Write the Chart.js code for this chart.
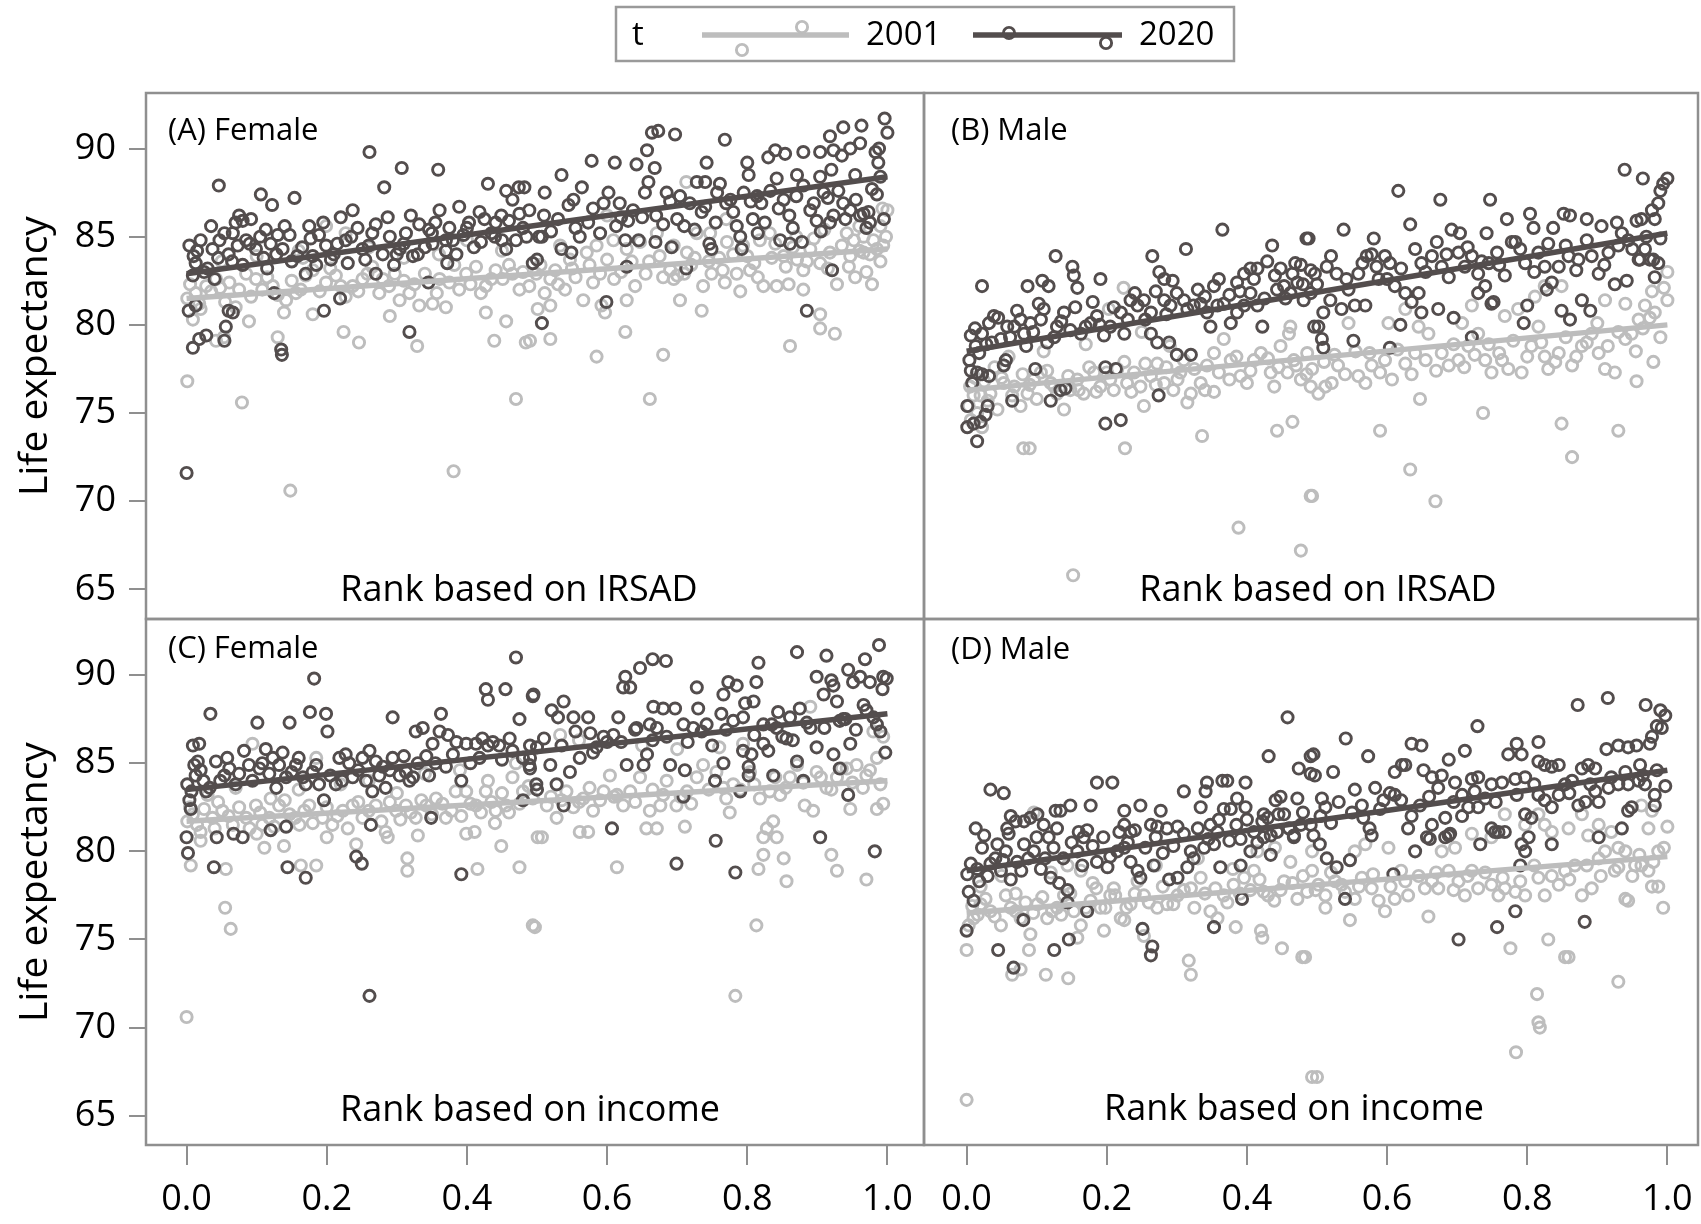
<!DOCTYPE html>
<html><head><meta charset="utf-8">
<script src="https://cdn.jsdelivr.net/npm/chart.js@4.4.1/dist/chart.umd.min.js"></script>
<style>
html,body{margin:0;padding:0;background:#fff;width:1701px;height:1224px;overflow:hidden}
canvas{position:absolute;display:block}
</style></head><body>
<canvas id="legend" width="1701" height="91" style="left:0;top:0"></canvas>
<canvas id="cA" width="927" height="530" style="left:0;top:91px"></canvas>
<canvas id="cB" width="779" height="530" style="left:922px;top:91px"></canvas>
<canvas id="cC" width="927" height="607" style="left:0;top:617px"></canvas>
<canvas id="cD" width="779" height="607" style="left:922px;top:617px"></canvas>
<script>
// ---------- data ----------
const years = ['2001', '2020'];
const yTickValues = [65, 70, 75, 80, 85, 90];
const xTickValues = [0, 0.2, 0.4, 0.6, 0.8, 1.0];
const fitX = [0, 1];
const fitA_2001 = [81.5, 84.3], fitA_2020 = [82.9, 88.4];
const fitB_2001 = [76.3, 80.0], fitB_2020 = [78.5, 85.2];
const fitC_2001 = [81.7, 84.0], fitC_2020 = [83.5, 87.8];
const fitD_2001 = [76.5, 79.7], fitD_2020 = [78.9, 84.6];

const ptsA_2020 = [[0.000,71.6],[0.261,89.8],[0.307,88.9],[0.359,88.8],[0.282,87.8],[0.046,87.9],[0.106,87.4],[0.122,86.8],[0.154,87.2],[0.430,88.0],[0.456,87.6],[0.474,87.8],[0.482,87.8],
[0.009,78.7],[0.018,79.2],[0.028,79.4],[0.054,79.1],[0.056,79.9],[0.003,80.8],[0.013,81.1],[0.066,80.7],[0.060,80.8],[0.135,78.6],[0.136,78.3],[0.196,80.8],[0.219,81.5],[0.318,79.6],[0.125,81.8],[0.345,82.4],[0.372,83.5],
[0.004,84.5],[0.009,82.8],[0.020,84.8],[0.013,83.5],[0.037,84.3],[0.047,84.8],[0.054,85.2],[0.070,85.8],[0.080,85.9],[0.092,86.0],[0.066,85.2],[0.073,84.5],[0.085,84.8],[0.099,84.3],[0.113,85.4],[0.130,85.1],[0.147,85.1],[0.137,84.3],[0.158,83.9],[0.170,82.9],[0.177,84.9],[0.189,85.1],[0.199,84.5],[0.206,83.7],[0.220,86.1],[0.237,86.5],[0.227,84.8],[0.244,85.5],[0.251,84.3],[0.270,85.7],[0.270,82.9],[0.287,86.1],[0.296,83.4],[0.304,84.3],[0.313,85.2],[0.323,83.9],[0.332,85.7],[0.346,85.4],[0.351,84.6],[0.361,86.5],[0.370,84.8],[0.380,84.8],[0.389,86.7],[0.403,85.8],[0.418,86.4],[0.441,85.8],[0.449,86.2],[0.456,84.3],[0.465,87.1],[0.470,84.8],[0.489,86.5],[0.494,83.5],[0.503,85.0],
[0.010,83.9],[0.030,83.2],[0.040,82.6],[0.060,84.0],[0.080,83.4],[0.110,83.8],[0.120,84.6],[0.150,83.6],[0.180,83.9],[0.210,84.0],[0.230,83.5],[0.260,84.5],[0.280,84.0],[0.310,84.6],[0.330,84.0],[0.350,85.2],[0.370,84.2],[0.400,85.5],[0.420,84.7],[0.440,85.0],[0.480,85.5],
[0.996,91.7],[1.000,90.9],[0.963,91.3],[0.937,91.2],[0.918,90.7],[0.983,89.8],[0.988,90.0],[0.987,89.2],[0.947,90.0],[0.961,90.3],[0.923,89.9],[0.935,89.6],[0.904,89.8],[0.880,89.8],[0.854,89.7],[0.840,89.9],[0.830,89.5],[0.800,89.2],[0.802,88.5],[0.768,90.5],[0.664,90.9],[0.673,91.0],[0.697,90.8],[0.657,89.9],[0.668,88.9],[0.659,88.1],[0.611,89.2],[0.578,89.3],[0.535,88.5],[0.564,87.8],[0.511,87.5],[0.642,89.1],[0.742,89.2],[0.728,88.1],[0.740,88.1],[0.761,88.0],[0.842,88.3],[0.871,88.5],[0.904,88.4],[0.920,88.8],[0.954,88.5],[0.978,87.7],
[0.552,87.1],[0.602,87.5],[0.618,86.9],[0.637,86.5],[0.654,87.5],[0.685,87.5],[0.704,87.3],[0.718,86.9],[0.757,87.5],[0.776,87.1],[0.795,87.5],[0.814,87.3],[0.833,87.6],[0.852,87.1],[0.895,86.9],[0.909,87.5],[0.937,86.9],[0.947,86.5],[0.966,86.3],
[0.507,85.0],[0.500,83.7],[0.507,80.1],[0.535,84.3],[0.549,84.1],[0.561,85.0],[0.573,85.8],[0.599,81.3],[0.613,85.6],[0.626,84.8],[0.645,84.8],[0.628,83.3],[0.669,84.7],[0.692,84.4],[0.713,83.2],[0.725,85.4],[0.746,84.6],[0.749,84.3],[0.790,85.0],[0.792,84.3],[0.808,86.0],[0.825,85.8],[0.847,84.8],[0.861,84.6],[0.878,84.7],[0.885,80.8],[0.899,85.9],[0.918,85.8],[0.923,86.2],[0.921,83.1],[0.961,86.2],[0.970,85.5],[0.973,86.4],
[0.530,86.0],[0.580,86.6],[0.630,85.9],[0.670,86.2],[0.700,86.0],[0.740,86.7],[0.780,86.4],[0.820,86.9],[0.860,86.2],[0.880,87.9],[0.930,87.6],[0.990,88.4]];
const moreA_2020 = [[0.015,84.2],[0.025,83.0],[0.035,85.6],[0.045,83.8],[0.065,83.6],[0.075,86.2],[0.09,84.6],[0.105,85.0],[0.115,83.2],[0.128,84.0],[0.14,85.6],[0.165,84.4],[0.175,85.6],[0.185,83.4],[0.195,85.8],[0.215,84.6],[0.235,85.0],[0.255,83.7],[0.265,85.2],[0.29,85.0],[0.3,84.0],[0.32,86.2],[0.34,84.4],[0.355,85.8],[0.375,85.5],[0.385,84.0],[0.395,85.1],[0.41,84.4],[0.425,86.0],[0.435,85.2],[0.45,84.8],[0.46,85.9],[0.475,86.3],[0.485,85.0],[0.51,86.2],[0.52,85.3],[0.545,86.8],[0.555,85.5],[0.59,85.2],[0.595,86.9],[0.62,86.1],[0.65,86.1],[0.68,85.7],[0.69,87.0],[0.71,85.6],[0.735,86.4],[0.755,85.8],[0.77,86.9],[0.785,85.6],[0.805,87.0],[0.815,85.2],[0.845,86.6],[0.865,85.5],[0.87,87.3],[0.89,86.5],[0.905,85.3],[0.915,87.2],[0.94,86.0],[0.955,87.1],[0.975,85.8],[0.985,87.4],[0.995,86.0]];

const ptsA_2001 = [[0.001,76.8],[0.079,75.6],[0.148,70.6],[0.381,71.7],[0.470,75.8],[0.439,79.1],[0.484,79.0],[0.329,78.8],[0.246,79.0],[0.224,79.6],[0.130,79.3],[0.089,80.2],[0.042,79.1],[0.053,79.3],[0.009,80.3],[0.139,80.7],[0.427,80.7],[0.456,80.2],[0.501,80.9],
[0.001,81.5],[0.013,81.8],[0.028,82.2],[0.042,82.6],[0.061,82.4],[0.085,82.9],[0.099,82.6],[0.108,82.0],[0.123,82.2],[0.142,81.4],[0.156,81.8],[0.170,82.8],[0.180,83.1],[0.199,82.4],[0.213,82.8],[0.227,81.6],[0.237,82.2],[0.251,82.6],[0.265,83.3],[0.275,81.8],[0.289,82.2],[0.304,81.4],[0.318,81.8],[0.332,81.1],[0.351,81.2],[0.361,82.6],[0.389,82.0],[0.399,82.9],[0.413,83.3],[0.427,82.2],[0.441,83.1],[0.451,82.6],[0.465,82.9],[0.475,82.0],[0.489,82.2],[0.499,82.9],
[0.199,85.6],[0.227,85.2],[0.166,83.8],[0.050,83.6],[0.100,83.9],[0.160,84.2],[0.260,84.4],[0.310,83.8],[0.360,84.0],[0.400,84.8],[0.450,84.2],[0.020,80.9],[0.070,81.0],[0.180,80.6],[0.290,80.5],[0.370,81.0],
[0.519,82.6],[0.511,81.8],[0.519,81.1],[0.526,83.1],[0.540,82.0],[0.566,81.4],[0.580,82.4],[0.597,80.7],[0.592,81.1],[0.628,81.4],[0.626,79.6],[0.585,78.2],[0.680,78.3],[0.661,75.8],[0.490,79.1],[0.519,79.2],[0.680,82.7],[0.695,82.6],[0.704,81.4],[0.737,82.2],[0.735,80.8],[0.749,82.9],[0.768,82.4],[0.785,82.9],[0.804,83.1],[0.823,82.2],[0.842,82.2],[0.859,82.3],[0.861,78.8],[0.904,80.6],[0.904,79.8],[0.925,79.5],[0.880,83.1],[0.904,83.5],[0.928,82.3],[0.954,82.7],[0.978,82.3],[0.942,85.2],[0.952,84.8],[0.966,85.0],[0.980,84.8],[0.990,85.6],[0.994,84.5],[0.966,84.1],[0.947,83.9],[0.918,84.1],[0.890,84.3],[0.871,83.7],[0.852,83.9],[0.832,85.2],[0.818,84.8],[0.794,84.5],[0.771,84.7],[0.747,85.2],[0.728,85.2],[0.714,84.1],[0.695,84.5],[0.671,85.2],[0.647,84.7],[0.628,84.3],[0.609,84.8],[0.600,83.7],[0.585,84.5],[0.571,84.1],[0.547,83.7],[0.533,84.5],
[0.713,88.1],[0.993,86.6],[1.000,86.5],[0.770,86.0],[0.600,86.2],
[0.550,83.2],[0.620,83.0],[0.660,83.6],[0.720,83.4],[0.760,83.8],[0.810,83.5],[0.840,84.6],[0.870,85.0],[0.910,85.4],[0.960,84.2],[0.990,83.6],[0.640,82.2],[0.700,82.8],[0.790,81.9],[0.880,82.0],[0.970,83.0]];
const moreA_2001 = [[0.005,82.3],[0.018,81.2],[0.035,81.9],[0.048,82.1],[0.055,81.3],[0.075,82.0],[0.092,81.6],[0.115,82.7],[0.13,81.7],[0.15,82.5],[0.163,82.0],[0.19,81.9],[0.205,83.2],[0.22,82.2],[0.245,81.9],[0.258,82.9],[0.28,82.6],[0.297,82.9],[0.31,82.5],[0.325,82.3],[0.34,82.9],[0.357,81.8],[0.375,82.4],[0.382,83.4],[0.405,82.3],[0.42,81.8],[0.435,82.6],[0.46,83.4],[0.48,83.0],[0.505,83.4],[0.53,82.3],[0.555,82.7],[0.575,83.4],[0.59,82.9],[0.61,82.6],[0.635,83.6],[0.655,82.9],[0.675,83.9],[0.69,83.1],[0.71,82.9],[0.725,83.8],[0.745,83.6],[0.765,83.1],[0.78,84.0],[0.8,83.9],[0.815,82.7],[0.835,83.8],[0.855,83.3],[0.865,84.4],[0.885,83.6],[0.895,84.9],[0.915,83.2],[0.935,84.5],[0.945,83.3],[0.96,85.6],[0.975,84.0],[0.985,84.3],[0.998,85.0]];

const ptsB_2020 = [[0.365,85.4],[0.313,84.3],[0.436,84.5],[0.485,84.9],[0.127,83.9],[0.265,83.9],[0.191,82.6],[0.151,83.3],[0.153,82.8],[0.158,82.1],[0.022,82.2],[0.087,82.2],[0.108,82.5],[0.117,82.2],[0.103,81.2],[0.275,83.0],[0.282,82.6],[0.294,82.5],[0.353,82.2],[0.386,82.4],[0.396,82.9],[0.405,83.2],[0.415,83.2],[0.429,83.6],[0.448,83.2],[0.469,83.5],[0.477,83.4],[0.491,83.1],
[0.015,73.4],[0.001,74.2],[0.010,74.4],[0.020,74.5],[0.027,74.9],[0.001,75.4],[0.030,75.4],[0.008,76.7],[0.006,77.4],[0.015,77.3],[0.022,77.2],[0.032,77.1],[0.065,75.7],[0.120,75.7],[0.134,76.3],[0.141,76.4],[0.198,74.4],[0.220,74.6],[0.274,76.0],[0.198,77.6],[0.213,77.5],[0.098,77.5],[0.056,78.0],[0.053,77.7],[0.300,78.3],[0.320,78.3],[0.272,79.0],[0.289,79.0],[0.263,79.5],[0.422,79.9],[0.496,79.9],
[0.006,79.4],[0.013,78.8],[0.022,79.5],[0.032,80.1],[0.039,80.5],[0.049,79.2],[0.058,79.9],[0.068,79.9],[0.077,80.3],[0.082,79.5],[0.091,80.1],[0.106,80.3],[0.115,79.0],[0.129,79.9],[0.139,80.7],[0.148,79.7],[0.163,79.5],[0.177,80.1],[0.186,80.5],[0.196,79.4],[0.205,79.9],[0.220,80.7],[0.225,79.5],[0.234,81.4],[0.244,81.1],[0.253,81.4],[0.263,80.7],[0.282,81.4],[0.291,81.1],[0.310,81.4],[0.324,81.1],[0.334,81.2],[0.343,80.7],[0.348,79.9],[0.358,81.1],[0.367,81.2],[0.377,80.1],[0.386,80.7],[0.396,81.1],[0.405,81.8],[0.415,81.1],[0.443,82.0],[0.453,82.2],[0.462,81.8],[0.472,82.4],[0.481,81.4],[0.491,81.8],
[0.939,88.8],[0.965,88.3],[1.000,88.3],[0.994,88.0],[0.990,87.6],[0.987,86.9],[0.978,86.5],[0.982,86.0],[0.616,87.6],[0.676,87.1],[0.747,87.1],[0.538,85.4],[0.633,85.7],[0.771,86.0],[0.804,86.3],[0.809,85.5],[0.852,86.3],[0.861,86.2],[0.885,86.0],[0.906,85.6],[0.928,85.8],[0.956,85.9],[0.963,86.0],[0.837,85.5],[0.692,85.4],[0.704,85.2],[0.581,84.9],[0.488,84.9],[0.742,85.2],[0.778,84.7],
[0.497,82.9],[0.514,83.3],[0.528,82.9],[0.542,82.6],[0.559,82.9],[0.571,83.9],[0.578,84.0],[0.597,83.9],[0.604,83.5],[0.588,82.6],[0.611,82.2],[0.640,84.3],[0.649,83.5],[0.664,83.9],[0.671,84.7],[0.678,83.3],[0.688,82.7],[0.702,84.1],[0.711,83.3],[0.721,83.9],[0.730,82.9],[0.745,83.5],[0.757,84.1],[0.768,82.8],[0.783,84.7],[0.797,83.5],[0.816,84.1],[0.825,83.3],[0.835,82.4],[0.845,83.3],[0.859,83.9],[0.873,83.7],[0.892,83.9],[0.902,82.9],[0.916,84.1],[0.930,84.5],[0.944,84.8],[0.959,83.7],[0.968,84.3],[0.980,83.7],[0.987,83.5],
[0.502,79.9],[0.507,79.2],[0.509,78.7],[0.509,80.7],[0.519,81.4],[0.535,80.9],[0.554,81.1],[0.569,81.1],[0.552,79.1],[0.604,78.7],[0.619,80.0],[0.626,81.8],[0.635,81.3],[0.645,81.8],[0.649,80.7],[0.673,80.9],[0.695,80.4],[0.721,79.3],[0.730,81.8],[0.740,82.2],[0.749,81.2],[0.752,81.3],[0.795,80.1],[0.800,81.1],[0.828,82.0],[0.849,80.8],[0.861,80.3],[0.878,81.4],[0.890,80.8],[0.925,82.3],[0.942,82.5],[0.961,83.7],[0.975,83.7],[0.982,82.7]];
const moreB_2020 = [[0.004,78.0],[0.012,79.8],[0.018,78.4],[0.028,78.9],[0.036,79.0],[0.045,80.4],[0.062,79.3],[0.072,80.8],[0.085,78.8],[0.095,79.6],[0.11,80.9],[0.125,79.3],[0.135,80.2],[0.155,81.0],[0.17,79.9],[0.18,81.3],[0.19,80.0],[0.21,81.0],[0.23,80.3],[0.24,81.8],[0.255,80.3],[0.27,81.9],[0.285,80.6],[0.3,81.8],[0.315,80.9],[0.33,82.0],[0.34,81.6],[0.36,82.6],[0.375,81.7],[0.39,81.9],[0.41,82.6],[0.425,81.5],[0.44,82.8],[0.455,81.5],[0.465,82.9],[0.48,82.3],[0.5,82.3],[0.52,83.9],[0.545,82.0],[0.565,83.5],[0.585,83.3],[0.6,82.6],[0.62,83.2],[0.655,83.0],[0.685,84.0],[0.715,84.4],[0.735,83.6],[0.76,83.4],[0.79,84.3],[0.81,83.0],[0.83,84.6],[0.855,84.5],[0.87,83.1],[0.885,84.8],[0.91,83.4],[0.935,85.2],[0.95,84.3],[0.97,85.0],[0.99,84.9]];

const ptsB_2001 = [[0.152,65.8],[0.388,68.5],[0.477,67.2],[0.491,70.3],[0.081,73.0],[0.090,73.0],[0.226,73.0],[0.336,73.7],[0.443,74.0],[0.465,74.5],[0.253,75.4],[0.315,75.6],[0.353,76.2],
[0.224,82.1],[0.203,80.9],[0.460,79.5],[0.462,79.9],
[0.003,75.4],[0.015,75.0],[0.006,74.6],[0.022,74.2],[0.034,76.1],[0.044,75.2],[0.053,76.7],[0.068,76.5],[0.077,75.4],[0.087,76.1],[0.096,76.9],[0.106,77.3],[0.120,76.7],[0.129,76.1],[0.139,75.2],[0.148,76.3],[0.158,76.9],[0.167,76.1],[0.182,77.3],[0.191,76.5],[0.205,76.9],[0.215,77.5],[0.229,76.7],[0.239,77.3],[0.248,76.5],[0.263,77.1],[0.272,77.8],[0.282,76.7],[0.301,76.9],[0.310,78.0],[0.320,76.1],[0.334,76.7],[0.343,77.7],[0.353,78.4],[0.367,79.2],[0.377,78.0],[0.391,77.1],[0.400,76.7],[0.410,78.0],[0.420,78.4],[0.434,77.3],[0.439,76.5],[0.448,78.8],[0.458,77.3],[0.467,78.0],[0.477,76.9],[0.486,78.4],[0.491,76.5],
[0.005,76.5],[0.012,77.0],[0.020,76.0],[0.040,77.6],[0.060,78.2],[0.110,78.5],[0.170,78.9],[0.250,79.6],[0.290,78.8],
[0.493,70.3],[0.669,70.0],[0.633,71.8],[0.590,74.0],[0.647,75.8],[0.737,75.0],[0.849,74.4],[0.864,72.5],[0.930,74.0],[0.980,77.9],[0.956,76.8],
[1.000,83.0],[1.000,81.4],[0.995,82.1],[0.978,81.9],[0.940,81.2],[0.911,81.4],[0.825,82.2],[0.849,82.2],[0.811,81.6],[0.787,80.9],[0.768,80.5],[0.721,81.1],[0.707,80.1],[0.626,80.9],[0.645,79.9],[0.602,80.1],[0.545,80.1],
[0.493,77.5],[0.502,76.1],[0.512,76.5],[0.521,76.7],[0.530,77.7],[0.559,77.1],[0.569,76.7],[0.578,77.7],[0.597,78.0],[0.607,76.9],[0.626,77.8],[0.640,78.4],[0.659,79.5],[0.678,78.4],[0.688,77.7],[0.702,78.0],[0.716,78.8],[0.730,79.5],[0.740,78.0],[0.749,77.3],[0.764,78.0],[0.773,77.5],[0.792,77.3],[0.806,78.8],[0.816,79.9],[0.825,78.2],[0.830,77.5],[0.845,78.4],[0.864,77.7],[0.878,78.8],[0.892,79.5],[0.902,78.4],[0.911,77.5],[0.925,77.3],[0.940,79.2],[0.949,79.5],[0.959,80.3],[0.968,81.1],[0.982,80.7]];
const moreB_2001 = [[0.01,76.0],[0.025,76.8],[0.03,75.7],[0.05,77.0],[0.065,76.0],[0.08,77.2],[0.09,76.6],[0.1,75.8],[0.115,77.4],[0.125,76.5],[0.145,77.1],[0.16,76.3],[0.175,77.6],[0.185,76.2],[0.2,77.3],[0.21,76.3],[0.225,77.9],[0.235,76.2],[0.255,77.8],[0.27,76.6],[0.285,77.6],[0.295,76.3],[0.305,77.3],[0.325,77.5],[0.34,76.3],[0.36,77.3],[0.375,76.9],[0.385,78.2],[0.405,77.4],[0.43,78.1],[0.445,77.6],[0.47,77.7],[0.485,77.2],[0.51,77.9],[0.525,78.3],[0.54,77.2],[0.555,78.5],[0.575,78.4],[0.59,77.3],[0.615,78.6],[0.635,77.2],[0.655,78.0],[0.67,77.4],[0.695,78.9],[0.71,77.6],[0.725,78.3],[0.745,78.9],[0.76,78.4],[0.78,79.1],[0.8,78.2],[0.82,79.0],[0.84,77.9],[0.855,79.3],[0.87,78.2],[0.885,79.0],[0.9,80.1],[0.915,78.8],[0.93,79.6],[0.955,78.5],[0.965,79.8],[0.975,80.4],[0.99,79.3]];

const ptsC_2020 = [[0.470,91.0],[0.182,89.8],[0.034,87.8],[0.101,87.3],[0.147,87.3],[0.176,87.9],[0.199,87.8],[0.201,86.8],[0.294,87.6],[0.363,87.8],[0.427,89.2],[0.430,88.6],[0.455,89.2],[0.494,88.8],[0.475,87.5],
[0.261,71.8],[0.000,80.8],[0.002,79.9],[0.039,79.1],[0.043,80.8],[0.067,81.0],[0.080,80.8],[0.120,81.2],[0.142,81.4],[0.144,79.1],[0.170,78.5],[0.242,79.7],[0.250,79.3],[0.263,81.5],[0.349,81.9],[0.392,78.7],
[0.001,83.8],[0.011,84.9],[0.009,86.0],[0.018,86.1],[0.013,84.3],[0.020,84.6],[0.004,82.9],[0.006,82.4],[0.028,83.4],[0.042,85.1],[0.054,84.3],[0.061,84.7],[0.070,83.8],[0.082,85.7],[0.089,84.9],[0.104,84.7],[0.113,85.8],[0.123,85.3],[0.132,84.9],[0.142,84.2],[0.156,84.9],[0.166,84.2],[0.185,84.9],[0.189,83.8],[0.196,82.9],[0.213,83.8],[0.218,85.3],[0.227,85.5],[0.237,84.2],[0.251,85.3],[0.261,85.7],[0.265,83.4],[0.275,84.3],[0.284,83.6],[0.294,85.3],[0.304,84.3],[0.313,84.5],[0.323,84.2],[0.327,86.8],[0.337,87.0],[0.346,84.3],[0.351,86.1],[0.361,86.8],[0.373,86.6],[0.380,85.5],[0.392,84.0],[0.399,86.1],[0.413,86.1],[0.422,86.4],[0.437,86.2],[0.446,86.0],[0.461,86.4],[0.480,85.3],[0.489,84.9],[0.499,83.8],[0.480,82.9],
[0.988,91.7],[0.968,90.9],[0.913,91.1],[0.871,91.3],[0.816,90.7],[0.813,89.6],[0.684,90.8],[0.665,90.9],[0.647,90.4],[0.626,89.9],[0.623,89.3],[0.633,89.3],[0.728,89.3],[0.773,89.6],[0.785,89.4],[0.766,88.9],[0.899,89.9],[0.920,89.7],[0.923,89.4],[0.909,88.9],[0.928,88.5],[0.944,90.3],[0.951,89.6],[0.961,89.9],[0.975,89.6],[0.994,89.9],[0.999,89.8],[0.993,89.2],[0.966,88.3],[0.495,88.9],[0.538,88.5],[0.521,88.0],[0.530,87.6],[0.552,87.6],[0.573,87.6],
[0.666,88.2],[0.680,88.1],[0.697,88.1],[0.730,88.1],[0.797,88.4],[0.809,88.5],[0.844,87.9],[0.875,88.1],[0.616,87.6],[0.642,87.0],[0.661,87.2],[0.671,87.0],[0.709,87.2],[0.723,87.0],[0.742,87.2],[0.763,87.8],[0.780,87.4],[0.794,87.6],[0.823,87.2],[0.842,87.0],[0.861,87.6],[0.890,87.0],[0.932,87.4],[0.937,87.5],[0.980,87.6],[0.985,87.2],[0.576,86.7],[0.595,86.5],[0.609,86.6],[0.585,85.9],[0.561,85.3],[0.547,84.5],[0.490,85.3],[0.500,85.9],[0.519,84.9],[0.528,83.8],[0.500,83.5],[0.490,84.7],
[0.538,82.6],[0.607,81.3],[0.628,84.9],[0.652,84.9],[0.657,85.5],[0.690,84.9],[0.711,84.6],[0.699,79.3],[0.709,83.1],[0.754,84.0],[0.766,85.0],[0.755,80.6],[0.783,78.8],[0.790,83.4],[0.794,85.7],[0.802,84.8],[0.802,84.3],[0.806,85.5],[0.823,86.1],[0.830,85.7],[0.837,84.3],[0.856,86.4],[0.871,85.1],[0.880,84.0],[0.899,85.9],[0.904,80.8],[0.923,85.5],[0.932,84.7],[0.947,86.1],[0.944,83.2],[0.982,80.0],[0.997,85.6]];
const moreC_2020 = [[0.007,83.4],[0.016,85.1],[0.024,84.0],[0.033,83.6],[0.048,84.0],[0.058,85.3],[0.075,84.4],[0.094,84.0],[0.108,85.0],[0.118,84.4],[0.128,83.6],[0.137,85.6],[0.15,84.5],[0.16,85.3],[0.17,83.8],[0.18,84.5],[0.205,84.3],[0.222,84.0],[0.232,85.0],[0.245,84.6],[0.256,84.0],[0.27,85.1],[0.28,84.8],[0.29,84.6],[0.31,85.4],[0.318,84.0],[0.33,85.0],[0.342,85.4],[0.355,85.0],[0.37,84.8],[0.385,86.2],[0.405,85.0],[0.418,85.3],[0.43,86.0],[0.45,85.2],[0.465,85.7],[0.49,86.0],[0.51,86.4],[0.535,86.0],[0.555,86.8],[0.58,85.6],[0.6,86.2],[0.62,86.2],[0.64,86.9],[0.665,86.3],[0.685,86.5],[0.715,86.2],[0.735,86.8],[0.75,86.0],[0.77,86.9],[0.81,86.6],[0.835,87.2],[0.85,86.5],[0.865,86.3],[0.885,87.3],[0.91,87.0],[0.94,87.5],[0.955,86.9],[0.97,88.0],[0.99,86.8]];

const ptsC_2001 = [[0.000,70.6],[0.055,76.8],[0.063,75.6],[0.494,75.8],[0.006,79.2],[0.056,79.0],[0.163,79.2],[0.185,79.2],[0.315,79.6],[0.315,78.9],[0.415,79.0],[0.475,79.1],[0.501,80.8],[0.111,80.2],[0.139,80.3],[0.242,80.4],[0.287,80.8],[0.399,81.0],[0.411,81.1],[0.449,80.3],
[0.001,81.7],[0.009,82.1],[0.020,81.1],[0.037,81.9],[0.051,82.3],[0.066,81.5],[0.085,81.9],[0.099,82.6],[0.108,81.5],[0.118,81.9],[0.132,82.6],[0.147,82.1],[0.161,81.5],[0.175,82.6],[0.194,81.9],[0.208,81.5],[0.223,82.3],[0.237,82.6],[0.251,81.9],[0.270,82.6],[0.284,81.1],[0.299,82.3],[0.313,82.6],[0.327,81.9],[0.342,82.6],[0.356,83.0],[0.370,81.9],[0.384,83.4],[0.399,83.4],[0.413,82.6],[0.427,83.4],[0.441,82.3],[0.456,82.6],[0.465,84.2],[0.480,83.4],[0.494,83.0],[0.094,86.1],[0.185,85.3],
[0.030,83.2],[0.070,83.6],[0.120,83.0],[0.160,83.5],[0.220,83.8],[0.260,84.0],[0.300,83.3],[0.340,84.4],[0.390,84.6],[0.430,84.0],[0.470,85.0],[0.020,80.6],[0.100,81.0],[0.200,80.8],[0.330,80.9],[0.440,81.6],
[0.497,75.7],[0.813,75.8],[0.783,71.8],[0.614,79.1],[0.507,80.8],[0.561,81.1],[0.573,81.1],[0.656,81.3],[0.671,81.3],[0.711,81.4],[0.775,82.2],[0.823,79.8],[0.816,79.0],[0.852,79.6],[0.856,78.3],[0.920,79.8],[0.928,78.9],[0.970,78.4],[0.947,82.4],[0.985,82.4],[0.994,82.7],[0.823,80.8],[0.842,80.8],[0.828,81.3],[0.837,81.7],[0.882,82.6],[0.894,82.3],
[0.514,82.6],[0.528,81.9],[0.542,83.4],[0.552,82.5],[0.566,83.0],[0.580,82.3],[0.595,83.4],[0.604,84.3],[0.614,83.2],[0.623,82.6],[0.633,83.4],[0.647,84.2],[0.661,82.3],[0.676,82.6],[0.685,84.0],[0.699,82.6],[0.714,83.4],[0.728,84.2],[0.737,84.9],[0.756,84.5],[0.766,83.6],[0.780,83.8],[0.794,86.1],[0.804,84.5],[0.818,83.0],[0.832,83.4],[0.847,83.2],[0.861,84.2],[0.871,84.9],[0.890,88.2],[0.899,84.5],[0.913,83.6],[0.928,84.2],[0.942,84.7],[0.956,84.9],[0.970,84.3],[0.980,86.8],[0.994,86.5],[0.985,85.3],
[0.533,86.6],[0.560,86.3],[0.650,86.0],[0.700,85.8],[0.760,85.9]];
const moreC_2001 = [[0.005,82.5],[0.015,81.5],[0.025,82.4],[0.04,81.3],[0.045,82.8],[0.06,82.0],[0.075,82.5],[0.09,81.3],[0.105,82.2],[0.125,81.4],[0.14,82.9],[0.155,81.9],[0.168,82.3],[0.18,81.6],[0.2,82.5],[0.215,82.0],[0.23,81.3],[0.245,82.8],[0.26,82.3],[0.278,81.7],[0.29,82.8],[0.305,81.8],[0.32,82.2],[0.335,82.9],[0.35,82.1],[0.365,82.7],[0.378,82.3],[0.392,82.0],[0.405,82.7],[0.42,82.2],[0.435,82.8],[0.45,83.3],[0.46,82.2],[0.475,82.7],[0.488,83.7],[0.52,83.1],[0.535,82.9],[0.56,82.8],[0.575,83.6],[0.59,82.9],[0.61,83.1],[0.64,82.8],[0.665,83.5],[0.68,83.2],[0.705,83.1],[0.72,82.7],[0.745,83.5],[0.77,83.0],[0.79,83.5],[0.81,83.8],[0.84,84.2],[0.855,83.6],[0.88,83.9],[0.905,84.2],[0.92,83.5],[0.935,84.7],[0.95,83.9],[0.965,83.6],[0.975,84.6],[0.99,83.8]];

const ptsD_2020 = [[0.458,87.6],[0.034,83.5],[0.053,83.3],[0.186,83.9],[0.208,83.9],[0.310,83.4],[0.343,83.9],[0.365,84.0],[0.372,84.0],[0.398,83.9],[0.431,85.4],[0.474,84.7],[0.491,85.4],[0.491,84.4],[0.177,82.6],[0.148,82.6],[0.127,82.3],[0.134,82.3],[0.248,82.6],[0.225,82.3],[0.277,82.3],[0.334,82.5],[0.341,83.4],[0.377,82.4],[0.386,83.0],[0.398,82.5],[0.424,82.1],[0.441,82.9],[0.448,83.1],[0.453,82.1],[0.472,83.0],[0.063,82.0],[0.091,81.9],[0.101,82.1],[0.110,81.5],[0.013,81.3],[0.025,80.9],[0.058,81.3],[0.070,81.7],[0.082,81.7],[0.117,80.8],[0.129,81.3],[0.160,81.1],[0.172,81.2],[0.225,81.5],[0.234,81.1],[0.263,81.5],[0.272,81.4],[0.286,81.3],[0.301,81.4],[0.348,81.5],[0.358,81.1],[0.367,82.4],[0.391,80.7],[0.410,81.1],[0.422,81.7],[0.434,80.9],[0.467,80.8],
[0.001,78.7],[0.003,77.7],[0.010,77.2],[0.018,78.3],[0.034,79.3],[0.041,79.6],[0.049,78.9],[0.056,80.0],[0.063,78.4],[0.072,79.4],[0.082,80.4],[0.096,80.0],[0.106,79.0],[0.120,78.5],[0.132,78.2],[0.144,77.8],[0.158,80.0],[0.167,80.8],[0.186,79.4],[0.201,79.1],[0.215,80.0],[0.225,80.2],[0.234,79.4],[0.244,78.9],[0.248,78.5],[0.267,79.2],[0.289,78.4],[0.301,78.5],[0.315,79.1],[0.324,79.6],[0.339,80.2],[0.353,80.4],[0.362,79.1],[0.391,79.2],[0.393,77.3],[0.405,80.0],[0.424,80.8],[0.434,79.8],[0.443,81.1],[0.467,80.9],[0.477,81.5],[0.491,81.5],
[0.000,75.5],[0.045,74.4],[0.067,73.4],[0.081,76.1],[0.125,74.4],[0.146,75.0],[0.251,75.6],[0.265,74.6],[0.263,74.1],[0.353,75.7],[0.172,76.6],[0.144,77.1],
[0.915,88.7],[0.872,88.3],[0.969,88.3],[0.990,88.0],[0.997,87.7],[0.985,87.1],[0.992,87.0],[0.978,86.5],[0.975,86.1],[0.729,87.1],[0.541,86.4],[0.495,85.5],[0.573,85.4],[0.635,86.1],[0.649,86.0],[0.785,86.1],[0.816,86.2],[0.711,85.7],[0.688,85.2],[0.792,85.5],[0.913,85.8],[0.930,86.0],[0.944,85.9],[0.956,86.0],[0.961,84.9],
[0.523,84.5],[0.497,84.3],[0.554,83.5],[0.583,83.6],[0.604,83.3],[0.611,84.5],[0.621,84.9],[0.626,84.9],[0.652,84.6],[0.664,84.2],[0.678,84.3],[0.673,83.6],[0.697,83.9],[0.707,83.2],[0.721,84.1],[0.730,84.2],[0.749,83.8],[0.764,83.9],[0.773,85.5],[0.783,84.1],[0.797,84.2],[0.816,85.1],[0.825,84.9],[0.835,84.8],[0.845,84.9],[0.854,83.8],[0.864,84.0],[0.878,84.7],[0.887,84.9],[0.897,84.7],[0.902,82.8],[0.916,83.6],[0.930,83.8],[0.944,83.8],[0.959,84.0],[0.968,83.8],[0.982,83.2],[0.997,83.7],[0.507,83.0],[0.531,82.8],[0.512,82.5],[0.564,82.6],[0.566,81.9],[0.595,82.9],[0.611,83.2],[0.630,81.3],[0.647,82.6],[0.664,81.5],[0.683,81.9],[0.690,81.0],[0.683,80.8],[0.707,82.0],[0.716,82.5],[0.730,82.5],[0.740,83.0],[0.749,81.3],[0.759,81.1],[0.768,81.1],[0.797,82.1],[0.806,81.9],[0.816,83.2],[0.835,82.5],[0.845,83.2],[0.873,82.6],[0.883,82.8],[0.897,83.4],[0.902,80.8],[0.935,81.3],[0.944,82.3],[0.949,82.5],[0.982,82.6],
[0.495,80.9],[0.504,80.4],[0.514,79.6],[0.528,79.1],[0.547,79.5],[0.540,77.3],[0.578,80.9],[0.609,78.7],[0.640,80.0],[0.657,80.8],[0.661,80.7],[0.688,80.9],[0.733,80.4],[0.754,81.1],[0.792,80.4],[0.797,80.0],[0.802,80.8],[0.835,80.4],[0.790,79.2],[0.783,76.6],[0.757,75.7],[0.702,75.0],[0.882,76.0]];
const moreD_2020 = [[0.006,79.3],[0.015,79.0],[0.022,80.2],[0.03,78.6],[0.044,80.4],[0.052,79.5],[0.06,81.0],[0.078,78.9],[0.088,79.6],[0.1,80.8],[0.112,79.6],[0.124,80.2],[0.138,79.6],[0.15,80.5],[0.165,79.2],[0.18,80.3],[0.195,80.8],[0.205,79.7],[0.218,81.1],[0.23,80.5],[0.24,81.2],[0.255,80.2],[0.27,80.8],[0.28,79.9],[0.295,80.3],[0.31,81.0],[0.32,80.0],[0.33,81.3],[0.345,80.7],[0.36,81.8],[0.375,80.6],[0.385,81.5],[0.4,81.8],[0.415,80.5],[0.43,81.9],[0.445,82.1],[0.46,81.3],[0.48,82.2],[0.505,82.0],[0.52,81.6],[0.55,82.2],[0.575,81.3],[0.59,82.4],[0.62,82.9],[0.635,82.0],[0.66,83.1],[0.695,82.8],[0.725,83.4],[0.755,82.8],[0.785,83.2],[0.81,83.8],[0.825,82.9],[0.86,83.3],[0.89,83.8],[0.92,84.2],[0.94,84.5],[0.965,84.3],[0.985,84.6]];

const ptsD_2001 = [[0.000,65.9],[0.000,74.4],[0.065,73.0],[0.077,73.3],[0.113,73.0],[0.145,72.8],[0.317,73.8],[0.320,73.0],[0.089,74.4],[0.196,75.5],[0.158,75.1],[0.450,74.5],[0.479,74.0],[0.493,67.2],[0.384,75.7],[0.420,75.5],[0.422,75.1],[0.225,76.1],[0.253,75.2],
[0.003,75.8],[0.010,76.2],[0.020,77.0],[0.034,76.6],[0.049,75.8],[0.063,76.8],[0.077,76.2],[0.091,75.3],[0.101,77.0],[0.115,76.2],[0.129,76.8],[0.139,77.5],[0.153,76.6],[0.163,75.8],[0.177,77.2],[0.191,76.8],[0.205,77.5],[0.220,76.2],[0.234,77.0],[0.244,78.3],[0.253,77.5],[0.272,76.8],[0.286,77.0],[0.301,77.5],[0.320,77.9],[0.334,78.5],[0.348,76.6],[0.358,76.2],[0.367,77.5],[0.381,78.1],[0.396,78.5],[0.410,78.9],[0.424,77.7],[0.439,77.2],[0.453,78.3],[0.462,79.4],[0.472,77.3],[0.486,77.7],[0.493,80.0],[0.415,80.0],[0.096,82.2],[0.144,79.2],[0.163,78.9],
[0.020,78.0],[0.050,78.6],[0.120,78.8],[0.180,78.2],[0.270,79.2],[0.330,79.6],[0.380,79.0],[0.440,80.2],[0.070,77.6],[0.210,77.9],
[0.500,67.2],[0.784,68.6],[0.816,70.3],[0.818,70.0],[0.814,71.9],[0.930,72.6],[0.776,74.5],[0.830,75.0],[0.854,74.0],[0.859,74.0],[0.483,74.0],[0.994,76.8],[0.940,77.3],[0.944,77.2],[0.978,78.0],[0.987,78.0],[0.659,76.3],[0.547,76.1],[0.512,76.8],
[1.000,81.4],[0.978,82.3],[0.973,81.3],[0.963,82.6],[0.930,80.2],[0.920,81.1],[0.902,81.5],[0.878,82.1],[0.887,80.9],[0.859,81.3],[0.835,81.1],[0.825,81.5],[0.816,82.1],[0.797,81.5],[0.768,82.1],[0.749,80.8],[0.721,81.0],[0.697,80.2],[0.678,80.0],[0.602,80.2],[0.569,80.4],[0.554,80.0],
[0.493,78.9],[0.502,78.1],[0.512,77.5],[0.526,78.3],[0.540,77.7],[0.554,77.3],[0.564,78.5],[0.578,77.9],[0.588,77.2],[0.597,76.6],[0.611,77.3],[0.626,78.3],[0.630,77.5],[0.654,77.9],[0.664,78.3],[0.673,77.9],[0.688,78.9],[0.702,78.3],[0.711,77.5],[0.721,78.9],[0.730,77.9],[0.749,78.1],[0.759,77.5],[0.768,77.9],[0.783,77.7],[0.797,77.5],[0.816,78.5],[0.825,77.5],[0.845,78.1],[0.854,78.9],[0.868,79.2],[0.878,77.5],[0.892,77.9],[0.902,79.6],[0.911,80.0],[0.925,78.9],[0.940,80.0],[0.954,79.2],[0.963,79.2],[0.973,78.9],[0.987,80.0]];
const moreD_2001 = [[0.008,76.9],[0.016,76.4],[0.027,77.3],[0.04,76.3],[0.056,77.5],[0.07,76.6],[0.084,77.1],[0.095,76.5],[0.108,77.4],[0.122,76.6],[0.135,76.4],[0.148,77.6],[0.17,76.8],[0.185,77.9],[0.198,76.8],[0.212,77.5],[0.228,76.8],[0.24,77.6],[0.26,77.1],[0.28,78.0],[0.295,77.0],[0.31,77.8],[0.325,76.8],[0.34,77.6],[0.355,77.9],[0.372,77.1],[0.39,77.6],[0.405,77.8],[0.418,78.4],[0.43,77.5],[0.448,77.8],[0.465,78.2],[0.48,78.6],[0.498,77.8],[0.52,78.8],[0.535,78.1],[0.56,78.0],[0.58,78.7],[0.605,78.0],[0.62,78.9],[0.645,78.6],[0.67,78.8],[0.695,77.8],[0.715,78.6],[0.74,78.8],[0.765,78.5],[0.79,78.3],[0.81,79.2],[0.835,78.6],[0.86,78.4],[0.885,79.2],[0.905,78.6],[0.93,79.1],[0.95,78.6],[0.96,79.8],[0.98,79.4],[0.995,80.2]];

// ---------- styling ----------
const FONT = "'Open Sans', 'Noto Sans', sans-serif";
const LIGHT = '#bdbdbd', DARK = '#534d4d', FRAME = '#8f8f8f';
const seriesColors = [LIGHT, DARK];

const panelDeco = {
  id: 'panelDeco',
  afterDraw(chart, args, o) {
    const {ctx, chartArea: a} = chart;
    ctx.save();
    ctx.strokeStyle = FRAME; ctx.lineWidth = 2.5;
    ctx.strokeRect(a.left, a.top, a.right - a.left, a.bottom - a.top);
    ctx.fillStyle = '#000'; ctx.textBaseline = 'alphabetic';
    ctx.font = '31px ' + FONT; ctx.textAlign = 'left';
    ctx.fillText(o.label, o.labelX, o.labelY);
    ctx.font = '36px ' + FONT; ctx.textAlign = 'center';
    ctx.fillText(o.sub, o.subX, o.subY);
    ctx.restore();
  }
};

function xy(pairs) { return pairs.map(p => ({x: p[0], y: p[1]})); }
function fitLine(vals) { return fitX.map((x, i) => ({x: x, y: vals[i]})); }

function makePanel(p) {
  const ptsSets = [p.p01, p.p20], fitSets = [p.f01, p.f20];
  const datasets = [];
  years.forEach((yr, i) => {
    datasets.push({label: yr + ' fit', data: fitLine(fitSets[i]), showLine: true, borderColor: seriesColors[i],
      borderWidth: 5.5, pointRadius: 0, fill: false, order: 2 - i});
  });
  years.forEach((yr, i) => {
    datasets.push({label: yr, data: xy(ptsSets[i]), showLine: false, pointRadius: 5.6, pointBorderWidth: 2.9,
      pointBorderColor: seriesColors[i], pointBackgroundColor: 'rgba(0,0,0,0)', order: 4 - i});
  });
  new Chart(document.getElementById(p.canvas), {
    type: 'scatter',
    data: {datasets},
    options: {
      responsive: false, animation: false, events: [], devicePixelRatio: 1,
      layout: {padding: p.pad, autoPadding: false},
      plugins: {legend: {display: false}, tooltip: {enabled: false},
        panelDeco: {label: p.label, labelX: p.labelX, labelY: p.labelY, sub: p.sub, subX: p.subX, subY: p.subY}},
      scales: {
        x: {type: 'linear', min: p.xmin, max: p.xmax, display: p.showX,
          afterBuildTicks: s => { s.ticks = xTickValues.map(v => ({value: v})); },
          afterFit: s => { if (p.showX) { s.height = 79; s.paddingLeft = 0; s.paddingRight = 0; } else { s.height = 0; } },
          ticks: {callback: v => Number(v).toFixed(1), font: {family: FONT, size: 36}, color: '#000', padding: 13, maxRotation: 0, autoSkip: false},
          grid: {drawOnChartArea: false, drawTicks: true, tickLength: 20, color: FRAME, lineWidth: 2},
          border: {display: false}},
        y: {type: 'linear', min: p.ymin, max: p.ymax, display: p.showY,
          afterBuildTicks: s => { s.ticks = yTickValues.map(v => ({value: v})); },
          afterFit: s => { if (p.showY) { s.width = 146; s.paddingTop = 0; s.paddingBottom = 0; } else { s.width = 0; } },
          ticks: {font: {family: FONT, size: 36}, color: '#000', padding: 13, autoSkip: false},
          grid: {drawOnChartArea: false, drawTicks: true, tickLength: 17, color: FRAME, lineWidth: 2},
          border: {display: false},
          title: {display: true, text: 'Life expectancy', color: '#000', font: {family: FONT, size: 39}, padding: {top: 12, bottom: 0}}}
      }
    },
    plugins: [panelDeco]
  });
}

const panels = [
  {canvas: 'cA', p01: ptsA_2001.concat(moreA_2001), p20: ptsA_2020.concat(moreA_2020), f01: fitA_2001, f20: fitA_2020, showX: false, showY: true,
   pad: {left: 0, right: 3, top: 2, bottom: 2}, xmin: -0.0579, xmax: 1.0522, ymin: 63.32, ymax: 93.15,
   label: '(A) Female', labelX: 168, labelY: 49, sub: 'Rank based on IRSAD', subX: 519, subY: 510},
  {canvas: 'cB', p01: ptsB_2001.concat(moreB_2001), p20: ptsB_2020.concat(moreB_2020), f01: fitB_2001, f20: fitB_2020, showX: false, showY: false,
   pad: {left: 2, right: 3, top: 2, bottom: 2}, xmin: -0.0608, xmax: 1.0437, ymin: 63.32, ymax: 93.15,
   label: '(B) Male', labelX: 29, labelY: 49, sub: 'Rank based on IRSAD', subX: 396, subY: 510},
  {canvas: 'cC', p01: ptsC_2001.concat(moreC_2001), p20: ptsC_2020.concat(moreC_2020), f01: fitC_2001, f20: fitC_2020, showX: true, showY: true,
   pad: {left: 0, right: 3, top: 2, bottom: 0}, xmin: -0.0579, xmax: 1.0522, ymin: 63.34, ymax: 93.18,
   label: '(C) Female', labelX: 168, labelY: 41, sub: 'Rank based on income', subX: 530, subY: 504},
  {canvas: 'cD', p01: ptsD_2001.concat(moreD_2001), p20: ptsD_2020.concat(moreD_2020), f01: fitD_2001, f20: fitD_2020, showX: true, showY: false,
   pad: {left: 2, right: 3, top: 2, bottom: 0}, xmin: -0.0608, xmax: 1.0437, ymin: 63.34, ymax: 93.18,
   label: '(D) Male', labelX: 29, labelY: 42, sub: 'Rank based on income', subX: 372, subY: 503}
];
panels.forEach(makePanel);

// ---------- legend ----------
(function drawLegend() {
  const ctx = document.getElementById('legend').getContext('2d');
  ctx.strokeStyle = '#9a9a9a'; ctx.lineWidth = 2.5;
  ctx.strokeRect(616, 7, 618, 54);
  ctx.fillStyle = '#000'; ctx.font = '33px ' + FONT; ctx.textBaseline = 'alphabetic'; ctx.textAlign = 'left';
  ctx.fillText('t', 632, 45);
  const items = [
    {x0: 702, x1: 849, c: [[742, 50], [802, 27]], tx: 866},
    {x0: 973, x1: 1122, c: [[1009, 33], [1106, 43]], tx: 1139}
  ];
  years.forEach((yr, i) => {
    const it = items[i];
    ctx.strokeStyle = seriesColors[i]; ctx.lineWidth = 5.5;
    ctx.beginPath(); ctx.moveTo(it.x0, 35); ctx.lineTo(it.x1, 35); ctx.stroke();
    ctx.lineWidth = 2.9;
    it.c.forEach(([cx, cy]) => { ctx.beginPath(); ctx.arc(cx, cy, 5.6, 0, Math.PI * 2); ctx.stroke(); });
    ctx.fillStyle = '#000';
    ctx.fillText(yr, it.tx, 45);
  });
})();
</script>
</body></html>
